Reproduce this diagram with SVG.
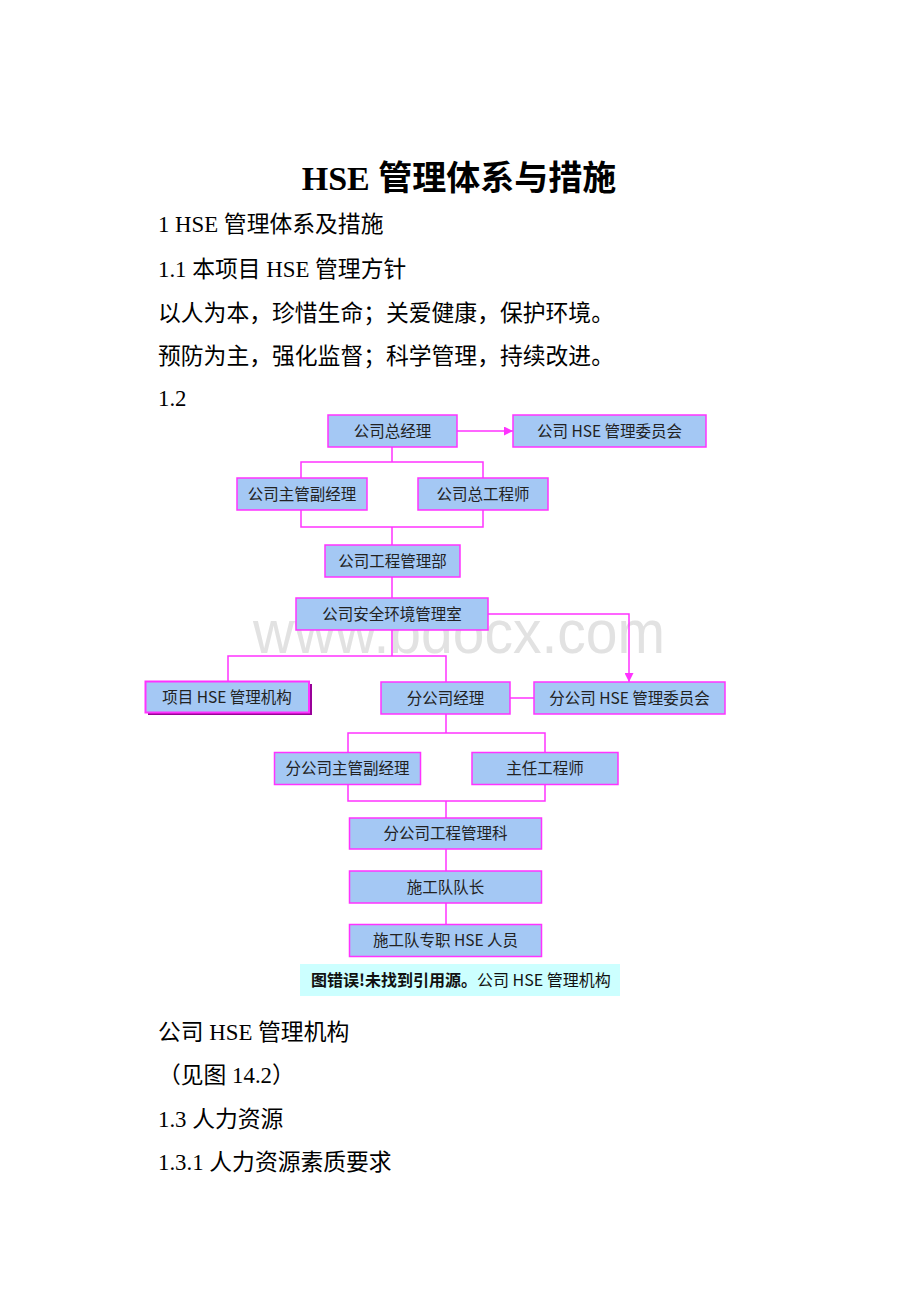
<svg xmlns="http://www.w3.org/2000/svg" width="920" height="1302" viewBox="0 0 920 1302">
<style>
.body{font-family:"Liberation Serif","Noto Sans CJK SC",serif;font-size:22.8px;fill:#000}
.title{font-family:"Liberation Serif","Noto Sans CJK SC",serif;font-size:34px;font-weight:bold;fill:#000}
.box rect.b{fill:#a4c8f4;stroke:#ff33ff;stroke-width:1.5}
.box text{font-family:"Noto Sans CJK SC","Noto Sans",sans-serif;font-size:15.5px;fill:#222;text-anchor:middle}
.conn{stroke:#ff33ff;stroke-width:1.5;fill:none}
.wm{font-family:"Liberation Sans",Arial,sans-serif;fill:#e2e2e2}
.cap{font-family:"Noto Sans CJK SC","Noto Sans",sans-serif;font-size:16px;fill:#111}
</style>
<defs>
<marker id="arr" viewBox="0 0 10 10" refX="10" refY="5" markerWidth="9" markerHeight="9" markerUnits="userSpaceOnUse" orient="auto">
<path d="M0,0 L10,5 L0,10 Z" fill="#ff33ff"/>
</marker>
</defs>
<rect width="920" height="1302" fill="#fff"/>

<text class="title" x="459" y="190" text-anchor="middle">HSE 管理体系与措施</text>
<text class="body" x="158" y="232">1 HSE 管理体系及措施</text>
<text class="body" x="158" y="277">1.1 本项目 HSE 管理方针</text>
<text class="body" x="158" y="321">以人为本，珍惜生命；关爱健康，保护环境。</text>
<text class="body" x="158" y="364">预防为主，强化监督；科学管理，持续改进。</text>
<text class="body" x="158" y="406">1.2</text>

<text class="wm" x="253" y="653" font-size="62" textLength="412" lengthAdjust="spacingAndGlyphs">www.bdocx.com</text>

<g id="connectors">
<line class="conn" x1="457" y1="431" x2="513" y2="431" marker-end="url(#arr)"/>
<path class="conn" d="M392,447 V462 M301,478 V462 H483 V478"/>
<path class="conn" d="M301,510 V527 H483 V510 M392,527 V545"/>
<path class="conn" d="M392,577 V598"/>
<path class="conn" d="M392,630 V656 M228,681 V656 H446 V682"/>
<path class="conn" d="M488,614 H629 V682" marker-end="url(#arr)"/>
<path class="conn" d="M510,698 H534"/>
<path class="conn" d="M446,714 V733 M348,752 V733 H545 V752"/>
<path class="conn" d="M348,785 V801 H545 V785 M446,801 V818"/>
<path class="conn" d="M446,849 V871"/>
<path class="conn" d="M446,903 V924"/>
</g>

<g id="n1" class="box"><rect class="b" x="328" y="415" width="129" height="32"/><text x="392.5" y="436.5">公司总经理</text></g>
<g id="n2" class="box"><rect class="b" x="513" y="415" width="193" height="32"/><text x="609.5" y="436.5">公司 HSE 管理委员会</text></g>
<g id="n3" class="box"><rect class="b" x="237" y="478" width="130" height="32"/><text x="302" y="499.5">公司主管副经理</text></g>
<g id="n4" class="box"><rect class="b" x="418" y="478" width="130" height="32"/><text x="483" y="499.5">公司总工程师</text></g>
<g id="n5" class="box"><rect class="b" x="325" y="545" width="135" height="32"/><text x="392.5" y="566.5">公司工程管理部</text></g>
<g id="n6" class="box"><rect class="b" x="296" y="598" width="192" height="32"/><text x="392" y="619.5">公司安全环境管理室</text></g>
<g id="n7" class="box"><rect x="148" y="684" width="164" height="31" fill="#990099"/><rect x="145.5" y="681.5" width="163.5" height="31" fill="#a4c8f4" stroke="#ff33ff" stroke-width="2"/><text x="227" y="702.5">项目 HSE 管理机构</text></g>
<g id="n8" class="box"><rect class="b" x="381" y="682" width="129" height="32"/><text x="445.5" y="703.5">分公司经理</text></g>
<g id="n9" class="box"><rect class="b" x="534" y="682" width="191" height="32"/><text x="629.5" y="703.5">分公司 HSE 管理委员会</text></g>
<g id="n10" class="box"><rect class="b" x="274.5" y="752.5" width="146" height="32"/><text x="347.5" y="774">分公司主管副经理</text></g>
<g id="n11" class="box"><rect class="b" x="472" y="752.5" width="146" height="32"/><text x="545" y="774">主任工程师</text></g>
<g id="n12" class="box"><rect class="b" x="349.5" y="818" width="192" height="31"/><text x="445.5" y="839">分公司工程管理科</text></g>
<g id="n13" class="box"><rect class="b" x="349.5" y="871" width="192" height="32"/><text x="445.5" y="892.5">施工队队长</text></g>
<g id="n14" class="box"><rect class="b" x="349.5" y="924.5" width="192" height="32"/><text x="445.5" y="946">施工队专职 HSE 人员</text></g>

<g id="caption">
<rect x="300" y="964" width="320" height="32" fill="#ccffff"/>
<text class="cap" x="311" y="986"><tspan font-weight="bold">图错误!未找到引用源。</tspan>公司 HSE 管理机构</text>
</g>

<text class="body" x="158" y="1040">公司 HSE 管理机构</text>
<text class="body" x="158" y="1083">（见图 14.2）</text>
<text class="body" x="158" y="1127">1.3 人力资源</text>
<text class="body" x="158" y="1170">1.3.1 人力资源素质要求</text>
</svg>
